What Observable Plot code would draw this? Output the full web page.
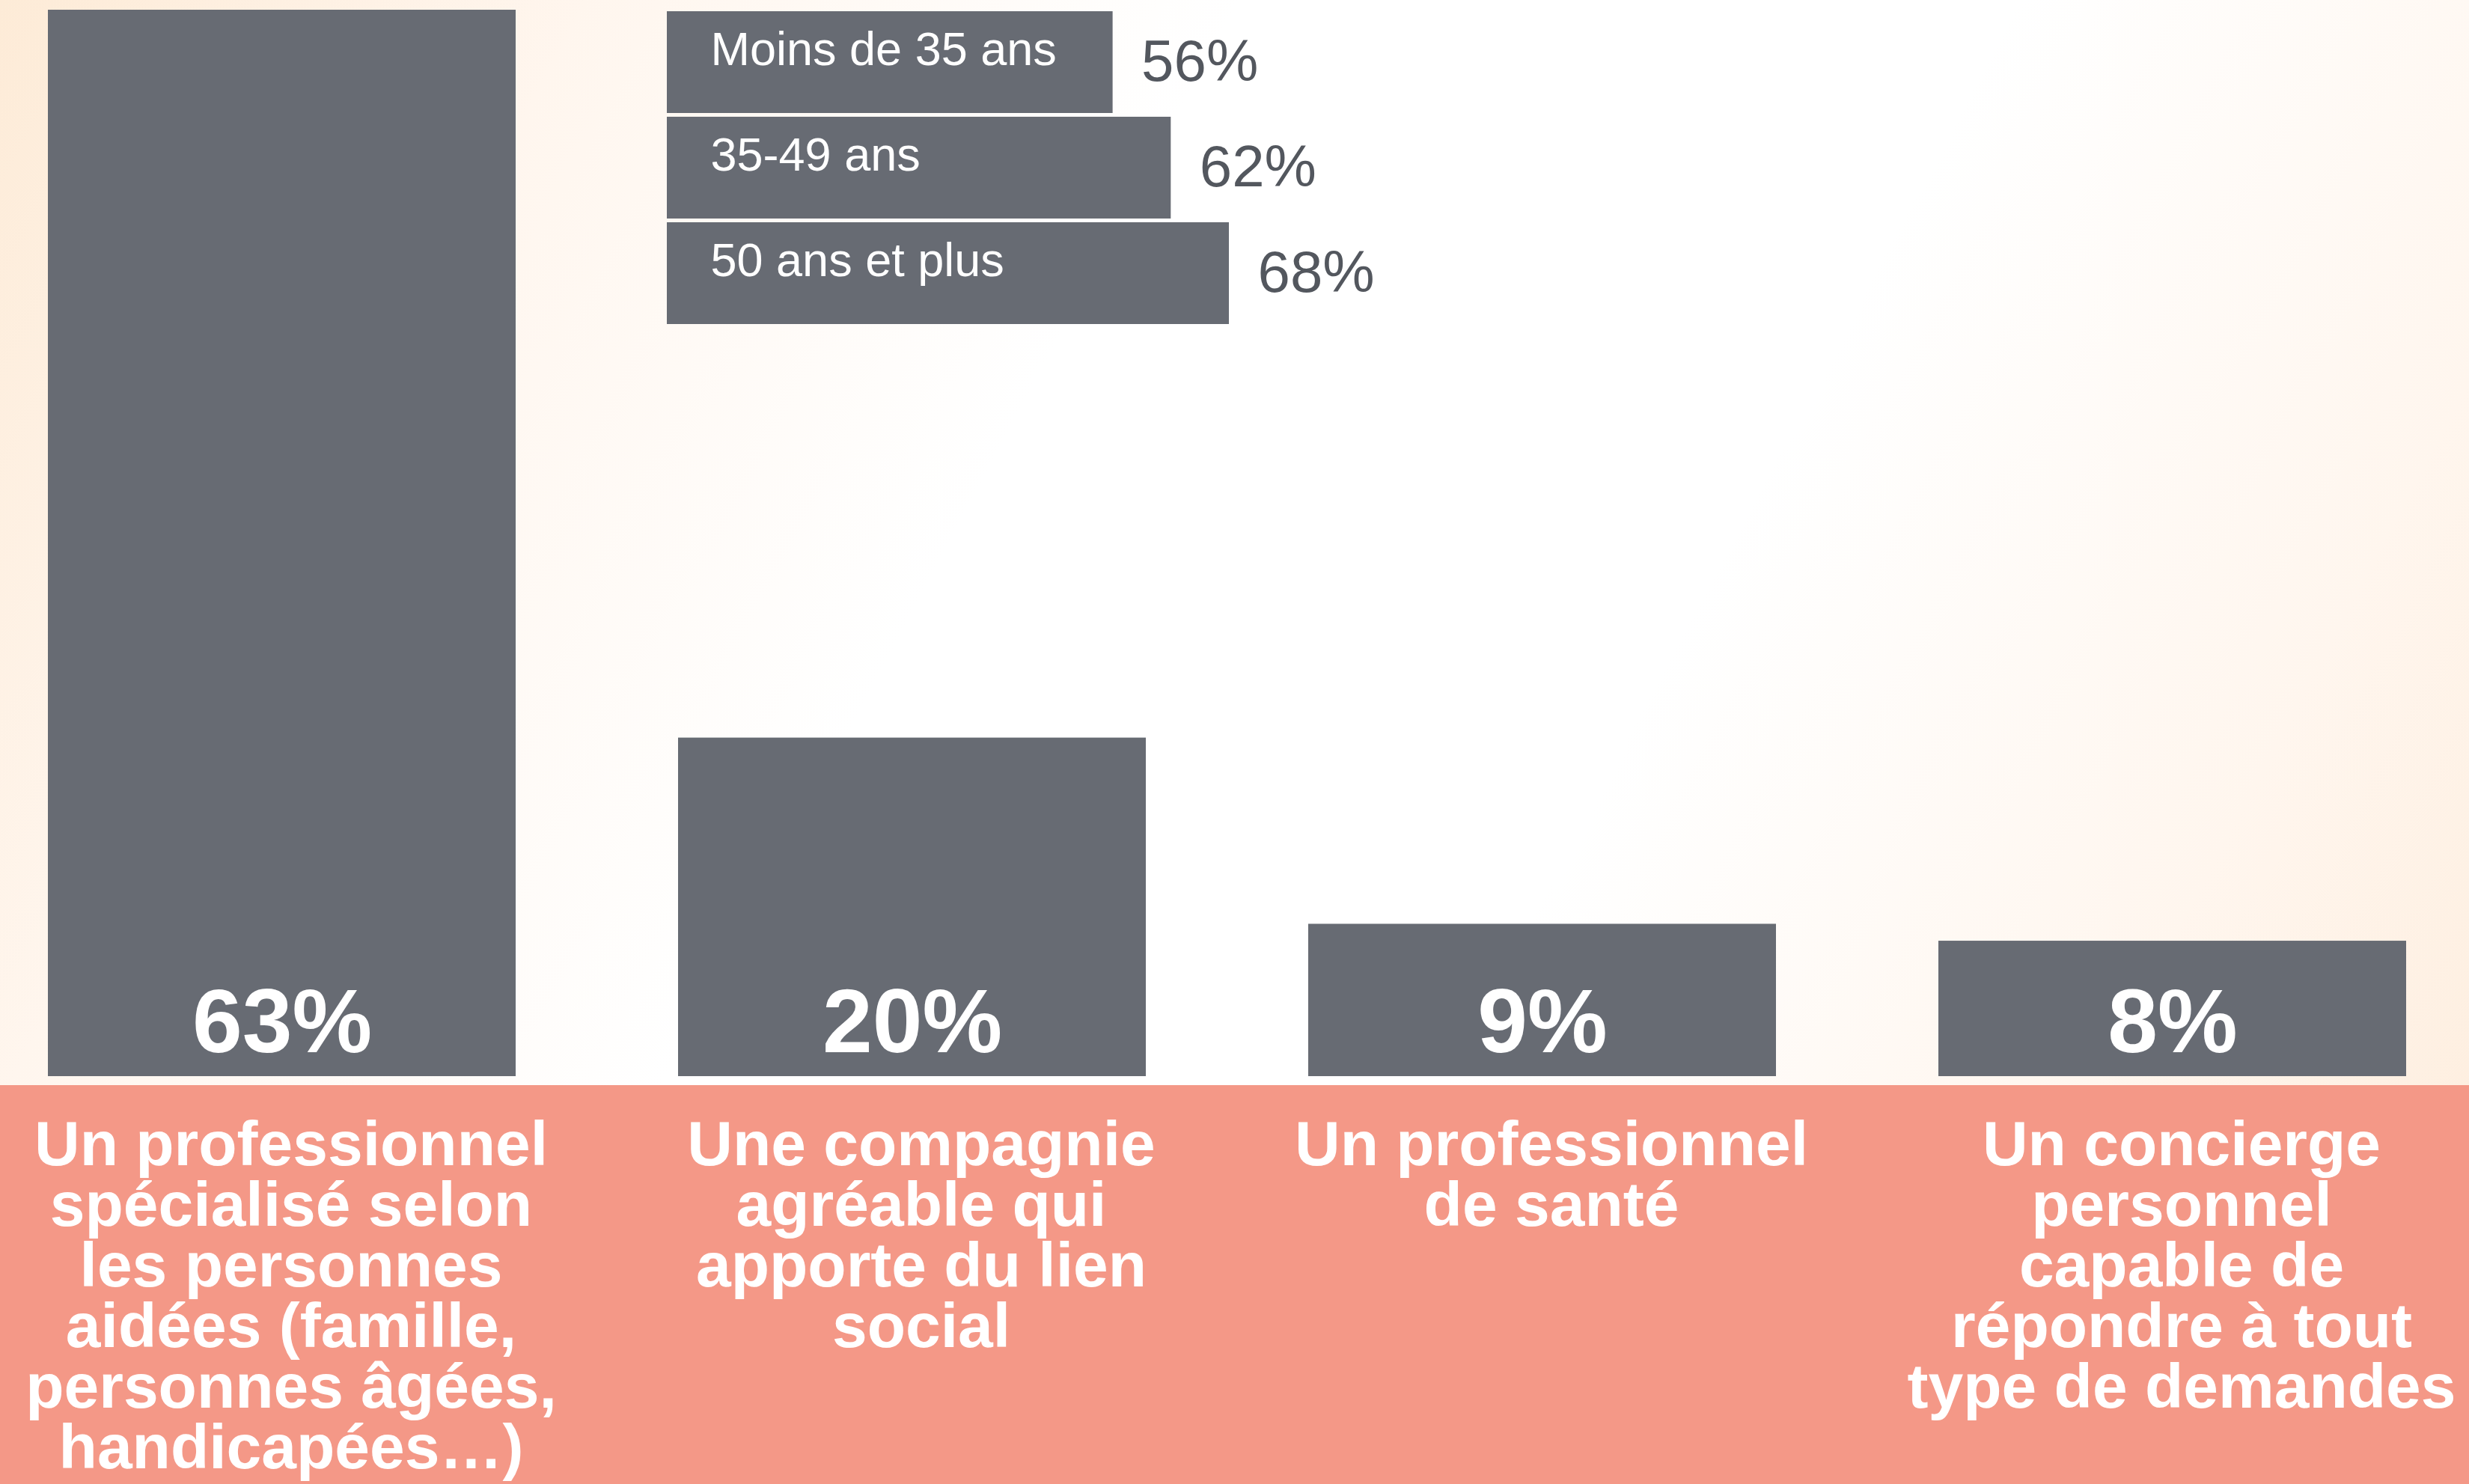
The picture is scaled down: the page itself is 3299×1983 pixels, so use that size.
<!DOCTYPE html>
<html>
<head>
<meta charset="utf-8">
<script src="https://cdn.jsdelivr.net/npm/d3@7"></script>
<script src="https://cdn.jsdelivr.net/npm/@observablehq/plot@0.6"></script>
<style>
  html, body { margin: 0; padding: 0; }
  body {
    width: 3299px; height: 1983px; position: relative; overflow: hidden;
    background:
      linear-gradient(to bottom, rgba(0,0,0,0) 1450px, #F49887 1450px),
      linear-gradient(118deg, #fdebd7 0%, #fff6ee 18%, #ffffff 38%, #ffffff 62%, #fff6ee 82%, #fdebd9 100%);
  }
  #main, #inset { position: absolute; left: 0; top: 0; }
</style>
</head>
<body>
<div id="main"></div>
<div id="inset"></div>
<script>
// Main chart data
const categories = [
  "Un professionnel\nspécialisé selon\nles personnes\naidées (famille,\npersonnes âgées,\nhandicapées…)",
  "Une compagnie\nagréable qui\napporte du lien\nsocial",
  "Un professionnel\nde santé",
  "Un concierge\npersonnel\ncapable de\nrépondre à tout\ntype de demandes"
];
const values = [63, 20, 9, 8];

// Inset chart data (first category by age group)
const ageGroups = ["Moins de 35 ans", "35-49 ans", "50 ans et plus"];
const ageValues = [56, 62, 68];

const mainData = categories.map((c, i) => ({cat: c, value: values[i]}));
const insetData = ageGroups.map((a, i) => ({age: a, value: ageValues[i]}));

const FONT = "'Liberation Sans', Arial, Helvetica, sans-serif";
const BAR = "#676B73";

const main = Plot.plot({
  width: 3299,
  height: 1983,
  marginLeft: 63,
  marginRight: 84,
  marginTop: 13,
  marginBottom: 545,
  style: {background: "transparent", fontFamily: FONT, overflow: "visible"},
  x: {type: "band", domain: categories, paddingInner: 0.258, paddingOuter: 0, axis: null},
  y: {domain: [0, 63], axis: null},
  marks: [
    Plot.barY(mainData, {x: "cat", y: "value", fill: BAR}),
    Plot.text(mainData, {
      x: "cat", frameAnchor: "bottom", lineAnchor: "bottom", dy: -33,
      text: d => d.value + "%", fill: "white", fontSize: 120, fontWeight: "bold"
    }),
    Plot.text(mainData, {
      x: "cat", frameAnchor: "bottom", lineAnchor: "top", dy: 61, dx: 12,
      text: "cat", fill: "white", fontSize: 84, fontWeight: "bold", lineHeight: 0.964
    })
  ]
});
document.getElementById("main").appendChild(main);

const inset = Plot.plot({
  width: 1900,
  height: 460,
  marginLeft: 891,
  marginRight: 258,
  marginTop: 15,
  marginBottom: 26,
  style: {background: "transparent", fontFamily: FONT, overflow: "visible"},
  x: {domain: [10, 68], clamp: true, axis: null},
  y: {type: "band", domain: ageGroups, paddingInner: 0.035, paddingOuter: 0, axis: null},
  marks: [
    Plot.barX(insetData, {y: "age", x: "value", fill: BAR}),
    Plot.text(insetData, {
      y: "age", frameAnchor: "left", textAnchor: "start", dx: 58, dy: -17,
      text: "age", fill: "white", fontSize: 63
    }),
    Plot.text(insetData, {
      y: "age", x: "value", textAnchor: "start", dx: 38,
      text: d => d.value + "%", fill: "#53575e", fontSize: 78
    })
  ]
});
document.getElementById("inset").appendChild(inset);
</script>
</body>
</html>
